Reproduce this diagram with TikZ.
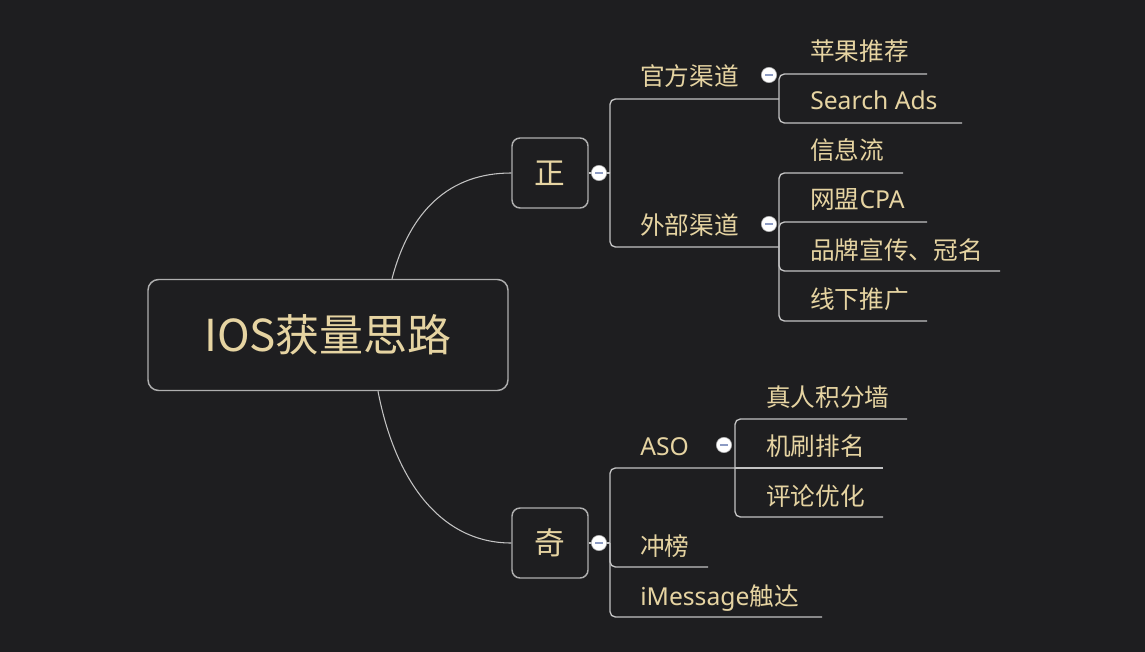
\documentclass[tikz,border=0pt]{standalone}
\usepackage{fontspec}
\setmainfont{Noto Sans CJK SC}
\newfontfamily\lat{Noto Sans}
\definecolor{bg}{RGB}{30,30,32}
\definecolor{txt}{RGB}{230,212,162}
\definecolor{ln}{RGB}{195,195,195}
\definecolor{bd}{RGB}{175,175,175}
\definecolor{minuscol}{RGB}{140,155,195}
\begin{document}
\begin{tikzpicture}[x=0.75pt,y=-0.75pt,
  conn/.style={draw=ln, line width=1pt, rounded corners=4pt},
  curve/.style={draw=ln, line width=0.8pt},
  leaf/.style={anchor=west, inner sep=0pt, text=txt, font=\fontsize{18.5}{20}\selectfont, text height=16pt, text depth=2.5pt},
  topic/.style={draw=bd, line width=1.1pt, rounded corners=6pt, fill=bg, text=txt, inner sep=0pt, minimum width=57pt, minimum height=52.5pt, font=\fontsize{23}{24}\selectfont},
  rootbox/.style={topic, minimum width=270pt, minimum height=83.25pt, rounded corners=8pt, font=\fontsize{33}{36}\selectfont},
  coll/.style={circle, fill=white, draw=gray!60, line width=0.4pt, minimum size=11.5pt, inner sep=0pt,
    path picture={\draw[minuscol, line width=1.2pt] ([xshift=-2.8pt]path picture bounding box.center) -- ([xshift=2.8pt]path picture bounding box.center);}}
]
\fill[bg] (0,0) rectangle (1145,652);
\useasboundingbox (0,0) rectangle (1145,652);

% main topics
\node[rootbox] (root) at (328,335) {IOS获量思路};
\node[topic] (zheng) at (550,173) {正};
\node[topic] (qi) at (550,543) {奇};

% junctions and underline ends
\coordinate (zj) at (610,173);
\coordinate (qj) at (610,543);

\node[leaf] (gf) at (640,77) {官方渠道};
\coordinate (gf-e) at (779,99);
\node[leaf] (wb) at (640,226) {外部渠道};
\coordinate (wb-e) at (779,247);

\node[leaf] (pg) at (810,52) {苹果推荐};
\coordinate (pg-e) at (927,74);
\node[leaf] (sa) at (810,101) {\lat Search Ads};
\coordinate (sa-e) at (962,123);

\node[leaf] (xx) at (810,151) {信息流};
\coordinate (xx-e) at (903,173);
\node[leaf] (wm) at (810,200) {网盟{\lat CPA}};
\coordinate (wm-e) at (927,222);
\node[leaf] (pp) at (810,250) {品牌宣传、冠名};
\coordinate (pp-e) at (1000,271);
\node[leaf] (xt) at (810,299) {线下推广};
\coordinate (xt-e) at (927,321);

\node[leaf] (aso) at (640,446) {\lat ASO};
\coordinate (aso-e) at (735,468);
\node[leaf] (cb) at (640,546) {冲榜};
\coordinate (cb-e) at (708,567);
\node[leaf] (im) at (640,596) {{\lat iMessage}触达};
\coordinate (im-e) at (822,617);

\node[leaf] (zr) at (766,397) {真人积分墙};
\coordinate (zr-e) at (907,419);
\node[leaf] (js) at (766,446) {机刷排名};
\coordinate (js-e) at (883,468);
\node[leaf] (pl) at (766,496) {评论优化};
\coordinate (pl-e) at (883,517);

% curves from root
\draw[curve] ([xshift=48pt]root.north) .. controls (410,210) and (450,173) .. (zheng.west);
\draw[curve] ([xshift=37.5pt]root.south) .. controls (395,480) and (440,543) .. (qi.west);

% 正 branch
\draw[conn] (zheng.east) -- (zj);
\draw[conn] (zj) |- (gf-e);
\draw[conn] (zj) |- (wb-e);
\draw[conn] (gf-e) |- (pg-e);
\draw[conn] (gf-e) |- (sa-e);
\draw[conn] (wb-e) |- (xx-e);
\draw[conn] (wb-e) |- (wm-e);
\draw[conn] (wb-e) |- (pp-e);
\draw[conn] (wb-e) |- (xt-e);

% 奇 branch
\draw[conn] (qi.east) -- (qj);
\draw[conn] (qj) |- (aso-e);
\draw[conn] (qj) |- (cb-e);
\draw[conn] (qj) |- (im-e);
\draw[conn] (aso-e) |- (zr-e);
\draw[conn] (aso-e) -- (js-e);
\draw[conn] (aso-e) |- (pl-e);

% collapse markers
\node[coll] (c-zheng) at (599,173) {};
\node[coll] (c-qi) at (599,543) {};
\node[coll] (c-gf) at (769,75) {};
\node[coll] (c-wb) at (769,224) {};
\node[coll] (c-aso) at (724,445) {};
\end{tikzpicture}
\end{document}
